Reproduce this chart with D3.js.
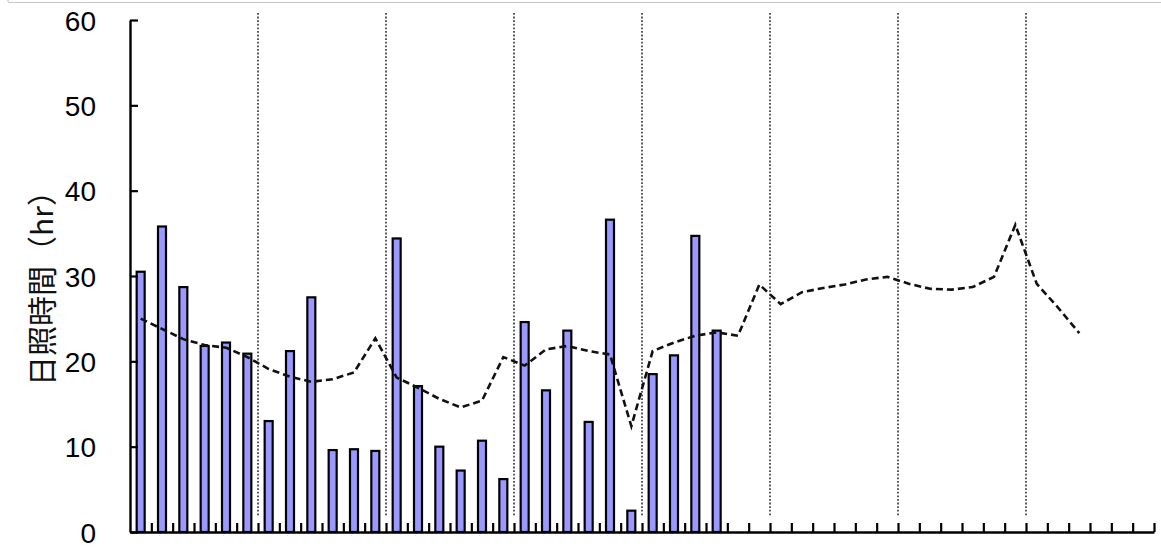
<!DOCTYPE html>
<html>
<head>
<meta charset="utf-8">
<script src="https://cdn.jsdelivr.net/npm/d3@7/dist/d3.min.js"></script>
<style>
  html, body { margin: 0; padding: 0; background: #fff; }
  svg { display: block; }
</style>
</head>
<body>
<svg id="chart" width="1161" height="551"></svg>
<script>
// Pentad periods: 8 months x 6 pentads
const months = [1, 2, 3, 4, 5, 6, 7, 8];
const pentads = [1, 2, 3, 4, 5, 6];
const periods = months.flatMap(m => pentads.map(p => `${m}-${p}`));

// Observed sunshine duration per pentad (hr)
const sunshine = [30.5, 35.8, 28.7, 21.8, 22.2, 20.9,
                  13.0, 21.2, 27.5, 9.6, 9.7, 9.5,
                  34.4, 17.1, 10.0, 7.2, 10.7, 6.2,
                  24.6, 16.6, 23.6, 12.9, 36.6, 2.5,
                  18.5, 20.7, 34.7, 23.6];

// Normal (climatological) sunshine duration per pentad (hr)
const normal = [25.0, 23.8, 22.6, 21.9, 21.6, 20.5,
                19.1, 18.2, 17.6, 17.9, 18.7, 22.7,
                18.1, 16.9, 15.6, 14.6, 15.4, 20.5,
                19.5, 21.4, 21.8, 21.2, 20.8, 12.4,
                21.2, 22.2, 23.0, 23.4, 23.0, 29.0,
                26.7, 28.1, 28.6, 29.0, 29.6, 29.9,
                29.1, 28.5, 28.4, 28.7, 29.9, 36.0,
                29.1, 26.3, 23.3];

const yTicks = [0, 10, 20, 30, 40, 50, 60];
const yTitle = "日照時間（hr）";

const svg = d3.select("#chart");

// frame corner of the surrounding panel
svg.append("path")
  .attr("d", "M8,0 L8,1 Q8,2.5 9.5,2.5 L1161,2.5")
  .attr("fill", "none")
  .attr("stroke", "#c4c4c4")
  .attr("stroke-width", 1.2);

const plotLeft = 130, plotRight = 1154, plotTop = 20, plotBottom = 532;

const x = d3.scaleBand().domain(periods).range([plotLeft, plotRight]).paddingInner(0).paddingOuter(0);
const xi = d3.scaleLinear().domain([0, periods.length]).range([plotLeft, plotRight]);
const y = d3.scaleLinear().domain([0, 60]).range([plotBottom, plotTop]);

// month separators every 6 pentads
const monthEdges = months.slice(1).map((m, i) => (i + 1) * pentads.length);
svg.append("g")
  .selectAll("line")
  .data(monthEdges)
  .join("line")
  .attr("x1", d => xi(d)).attr("x2", d => xi(d))
  .attr("y1", 13).attr("y2", 517)
  .attr("stroke", "#333")
  .attr("stroke-width", 1.6)
  .attr("stroke-dasharray", "1.8,1.8");

// bars
const barW = 8;
svg.append("g")
  .selectAll("rect")
  .data(sunshine)
  .join("rect")
  .attr("x", (d, i) => x(periods[i]) + x.bandwidth() / 2 - barW / 2)
  .attr("y", d => y(d))
  .attr("width", barW)
  .attr("height", d => y(0) - y(d))
  .attr("fill", "#9999ff")
  .attr("stroke", "#000")
  .attr("stroke-width", 2.2);

// normal line
const line = d3.line()
  .x((d, i) => x(periods[i]) + x.bandwidth() / 2)
  .y(d => y(d));
svg.append("path")
  .datum(normal)
  .attr("d", line)
  .attr("fill", "none")
  .attr("stroke", "#111")
  .attr("stroke-width", 2.6)
  .attr("stroke-dasharray", "7,4");

// x axis with inward ticks at period boundaries
const xAxis = svg.append("g")
  .attr("transform", `translate(0,${plotBottom})`)
  .call(d3.axisBottom(xi)
    .tickValues(d3.range(1, periods.length + 1))
    .tickSize(-9)
    .tickSizeOuter(0)
    .tickFormat(""));
xAxis.select(".domain").attr("stroke", "#000").attr("stroke-width", 2.4);
xAxis.selectAll(".tick line").attr("stroke", "#000").attr("stroke-width", 2.2);

// y axis with inward ticks
const yAxis = svg.append("g")
  .attr("transform", `translate(${plotLeft},0)`)
  .call(d3.axisLeft(y)
    .tickValues(yTicks)
    .tickSize(-8)
    .tickSizeOuter(0)
    .tickPadding(34));
yAxis.select(".domain").attr("stroke", "#000").attr("stroke-width", 2.4);
yAxis.selectAll(".tick line").attr("stroke", "#000").attr("stroke-width", 2.2);
yAxis.selectAll(".tick text")
  .attr("fill", "#000")
  .attr("font-family", "'Liberation Sans', Arial, sans-serif")
  .attr("font-size", 28)
  .attr("dy", "0.36em");

// y axis title
svg.append("text")
  .attr("transform", "translate(40,281) rotate(-90)")
  .attr("text-anchor", "middle")
  .attr("dominant-baseline", "central")
  .attr("font-family", "'Noto Sans CJK JP', sans-serif")
  .attr("font-size", 30)
  .attr("fill", "#111")
  .text(yTitle);
</script>
</body>
</html>
